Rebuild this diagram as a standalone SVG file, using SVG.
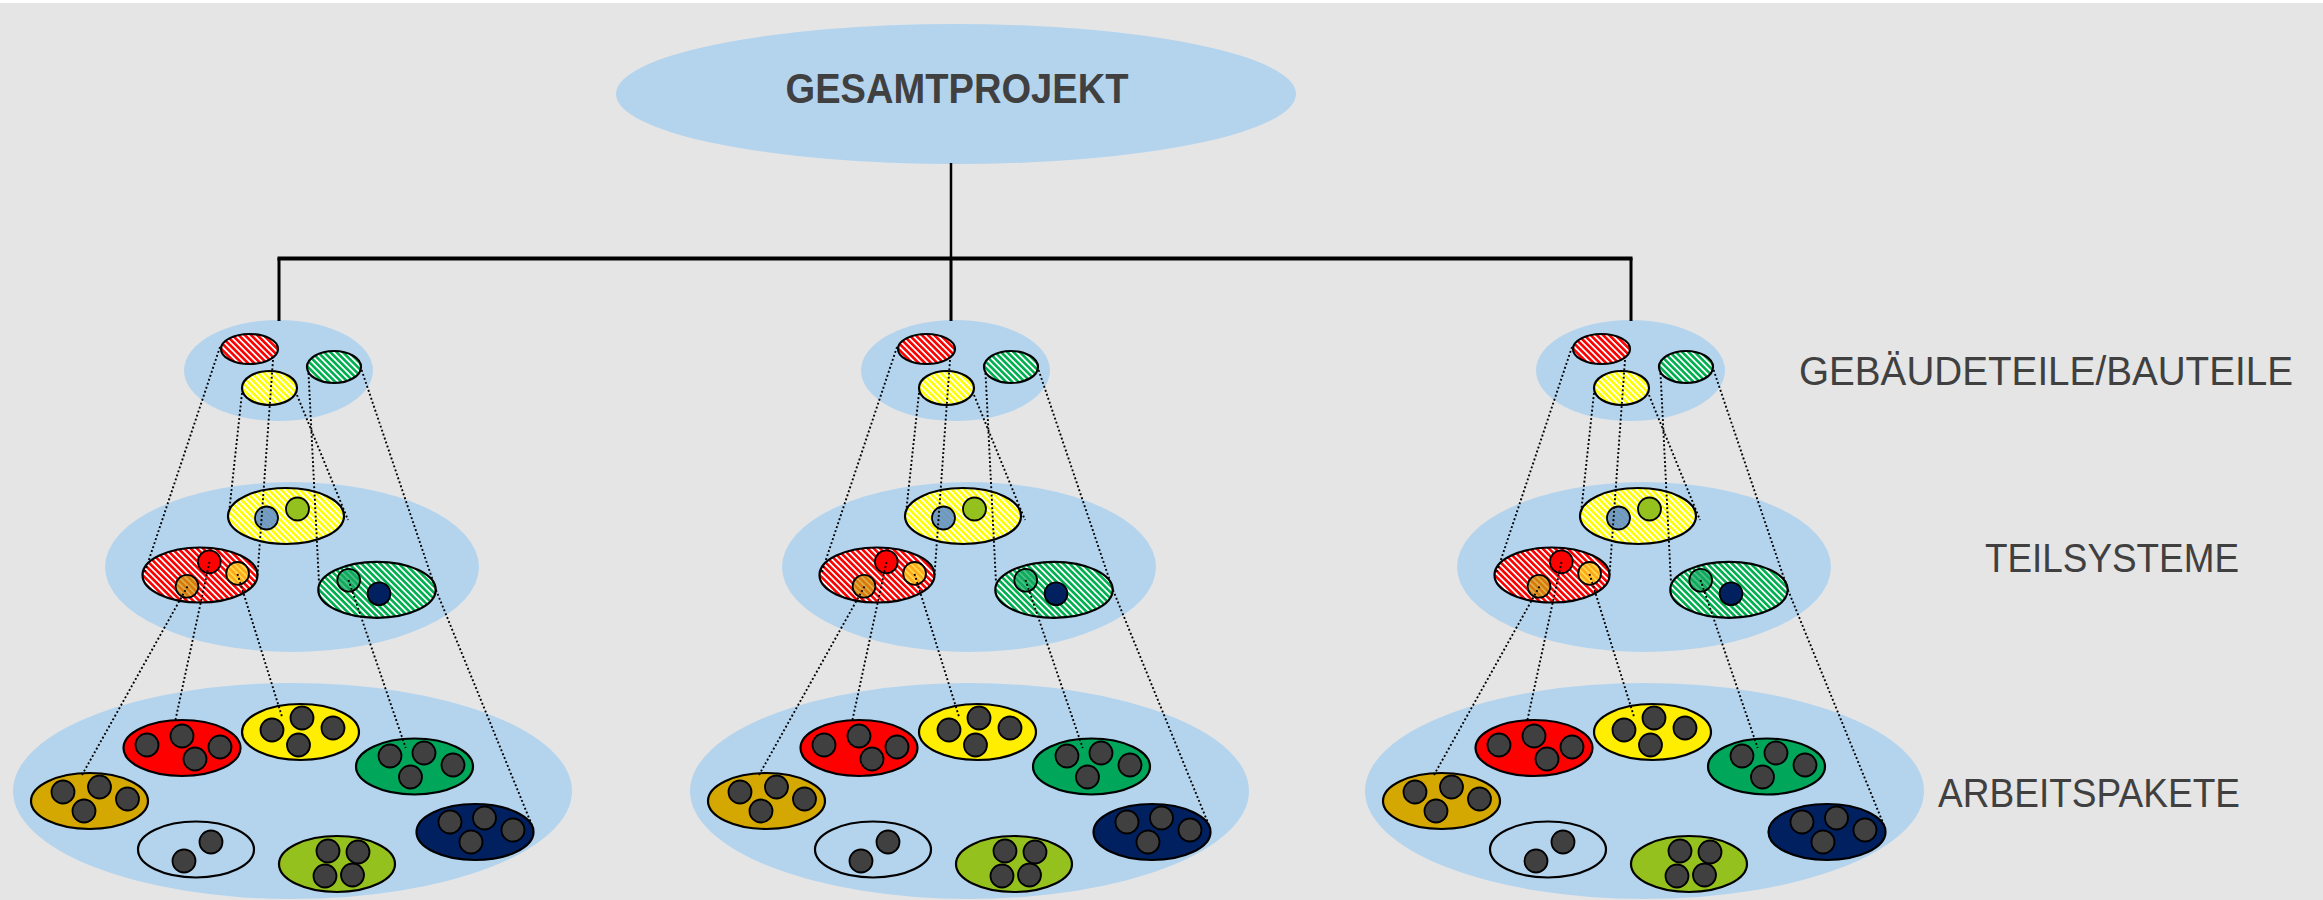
<svg xmlns="http://www.w3.org/2000/svg" xmlns:xlink="http://www.w3.org/1999/xlink" width="2323" height="900" viewBox="0 0 2323 900">
<style>
.bg{fill:#b4d4ee}
.ol{stroke:#000;stroke-width:2.2}
.dk{fill:#404040;stroke:#000;stroke-width:1.8}
.sm{stroke:#000;stroke-width:1.8}
.dot{stroke:#000;stroke-width:1.9;stroke-dasharray:1.9 2.3;fill:none}
.tree{stroke:#000;fill:none}
.lbl{font-family:"Liberation Sans",Arial,sans-serif;font-size:41px;fill:#404040}
</style>
<defs>
<pattern id="hr" width="4.4" height="4.4" patternUnits="userSpaceOnUse" patternTransform="rotate(-45)"><rect width="4.4" height="4.4" fill="#fff"/><line x1="2.2" y1="0" x2="2.2" y2="4.4" stroke="#ff0000" stroke-width="2.6"/></pattern>
<pattern id="hy" width="4.4" height="4.4" patternUnits="userSpaceOnUse" patternTransform="rotate(-45)"><rect width="4.4" height="4.4" fill="#fff"/><line x1="2.2" y1="0" x2="2.2" y2="4.4" stroke="#ffff00" stroke-width="2.6"/></pattern>
<pattern id="hg" width="4.4" height="4.4" patternUnits="userSpaceOnUse" patternTransform="rotate(-45)"><rect width="4.4" height="4.4" fill="#fff"/><line x1="2.2" y1="0" x2="2.2" y2="4.4" stroke="#00b050" stroke-width="2.6"/></pattern>
<g id="cluster">
  <ellipse class="bg" cx="278.5" cy="370.5" rx="94.5" ry="50.5"/>
  <ellipse class="bg" cx="292" cy="567" rx="187" ry="85"/>
  <ellipse class="bg" cx="292.5" cy="791" rx="279.5" ry="108"/>
  <ellipse class="ol" fill="url(#hr)" cx="249.5" cy="349" rx="28.5" ry="15"/>
  <ellipse class="ol" fill="url(#hg)" cx="334" cy="367" rx="27" ry="16"/>
  <ellipse class="ol" fill="url(#hy)" cx="269.5" cy="388" rx="27.5" ry="17"/>
  <ellipse class="ol" fill="url(#hy)" cx="286" cy="516" rx="58" ry="28"/>
  <circle class="sm" fill="#4f82d6" fill-opacity="0.8" cx="266.5" cy="518" r="11.5"/>
  <circle class="sm" fill="#95c11f" cx="297.5" cy="509" r="11.5"/>
  <ellipse class="ol" fill="url(#hr)" cx="200" cy="575" rx="57.5" ry="27.5"/>
  <circle class="sm" fill="#ff0000" cx="209.3" cy="561.8" r="11.4"/>
  <circle class="sm" fill="#ffd21f" fill-opacity="0.8" cx="237.6" cy="573.4" r="11.4"/>
  <circle class="sm" fill="#d09a10" fill-opacity="0.78" cx="187" cy="586.3" r="11.4"/>
  <ellipse class="ol" fill="url(#hg)" cx="377" cy="589.8" rx="58.7" ry="28"/>
  <circle class="sm" fill="#12a860" fill-opacity="0.75" cx="348.7" cy="580.2" r="11.4"/>
  <circle class="sm" fill="#002060" cx="379" cy="593.7" r="11.4"/>
  <ellipse class="ol" fill="#d4a800" cx="89.5" cy="801" rx="58.5" ry="28"/>
  <circle class="dk" cx="63" cy="792" r="11.5"/><circle class="dk" cx="99.5" cy="787" r="11.5"/><circle class="dk" cx="127.5" cy="799" r="11.5"/><circle class="dk" cx="84" cy="811" r="11.5"/>
  <ellipse class="ol" fill="#ff0000" cx="182" cy="748" rx="58.5" ry="28"/>
  <circle class="dk" cx="147" cy="745" r="11.5"/><circle class="dk" cx="182" cy="736" r="11.5"/><circle class="dk" cx="220" cy="747" r="11.5"/><circle class="dk" cx="195" cy="759" r="11.5"/>
  <ellipse class="ol" fill="#ffee00" cx="300.5" cy="732" rx="58.5" ry="28"/>
  <circle class="dk" cx="272" cy="730" r="11.5"/><circle class="dk" cx="302" cy="718" r="11.5"/><circle class="dk" cx="333" cy="728" r="11.5"/><circle class="dk" cx="298.5" cy="745" r="11.5"/>
  <ellipse class="ol" fill="#00a65a" cx="414.5" cy="766.5" rx="58.5" ry="28"/>
  <circle class="dk" cx="390" cy="756" r="11.5"/><circle class="dk" cx="424" cy="753" r="11.5"/><circle class="dk" cx="453" cy="765" r="11.5"/><circle class="dk" cx="410.5" cy="777" r="11.5"/>
  <ellipse class="ol" fill="#002060" cx="475" cy="832" rx="58.5" ry="28"/>
  <circle class="dk" cx="450" cy="822" r="11.5"/><circle class="dk" cx="484.5" cy="818" r="11.5"/><circle class="dk" cx="513" cy="830" r="11.5"/><circle class="dk" cx="471" cy="842" r="11.5"/>
  <ellipse class="ol" fill="none" cx="196" cy="849.5" rx="58" ry="28"/>
  <circle class="dk" cx="211" cy="842" r="11.5"/><circle class="dk" cx="184" cy="861" r="11.5"/>
  <ellipse class="ol" fill="#95c11f" cx="337" cy="864" rx="58" ry="28"/>
  <circle class="dk" cx="328" cy="851" r="11.5"/><circle class="dk" cx="358" cy="852" r="11.5"/><circle class="dk" cx="325" cy="876" r="11.5"/><circle class="dk" cx="352.5" cy="875" r="11.5"/>
</g>
<g id="dots" class="dot">
  <line x1="220" y1="347" x2="144.5" y2="573"/>
  <line x1="273" y1="360" x2="257.5" y2="575"/>
  <line x1="242" y1="393" x2="229" y2="513"/>
  <line x1="297" y1="395" x2="348" y2="520"/>
  <line x1="308.5" y1="373" x2="319" y2="583"/>
  <line x1="361.6" y1="370" x2="436" y2="590"/>
  <line x1="187.5" y1="586.5" x2="82" y2="775"/>
  <line x1="209.5" y1="562" x2="175" y2="722"/>
  <line x1="237.5" y1="574" x2="282.4" y2="718"/>
  <line x1="348.5" y1="580" x2="405.7" y2="748"/>
  <line x1="436" y1="590" x2="533.9" y2="830"/>
</g>
</defs>
<rect x="0" y="0" width="2323" height="900" fill="#ffffff"/>
<rect x="0" y="3" width="2323" height="897" fill="#e5e5e5"/>
<g id="gesamtprojekt">
  <ellipse class="bg" cx="956" cy="94" rx="340" ry="70"/>
  <text x="957" y="103" text-anchor="middle" textLength="343" lengthAdjust="spacingAndGlyphs" style="font-family:'Liberation Sans',Arial,sans-serif;font-weight:bold;font-size:43px;fill:#404040">GESAMTPROJEKT</text>
</g>
<g id="cluster-left"><use xlink:href="#cluster" href="#cluster"/></g>
<g id="cluster-middle"><use xlink:href="#cluster" href="#cluster" transform="translate(677,0)"/></g>
<g id="cluster-right"><use xlink:href="#cluster" href="#cluster" transform="translate(1352,0)"/></g>
<g id="connectors">
  <line class="tree" x1="951" y1="163" x2="951" y2="258" stroke-width="2.5"/>
  <line class="tree" x1="277.5" y1="258.5" x2="1632.5" y2="258.5" stroke-width="4"/>
  <line class="tree" x1="279" y1="258" x2="279" y2="321" stroke-width="3"/>
  <line class="tree" x1="951" y1="258" x2="951" y2="321" stroke-width="3"/>
  <line class="tree" x1="1631" y1="258" x2="1631" y2="321" stroke-width="3"/>
  <use xlink:href="#dots" href="#dots"/>
  <use xlink:href="#dots" href="#dots" transform="translate(677,0)"/>
  <use xlink:href="#dots" href="#dots" transform="translate(1352,0)"/>
</g>
<g id="labels">
  <text class="lbl" x="1799" y="385" style="font-size:40px" textLength="494" lengthAdjust="spacingAndGlyphs">GEBÄUDETEILE/BAUTEILE</text>
  <text class="lbl" x="1985" y="572" textLength="254" lengthAdjust="spacingAndGlyphs">TEILSYSTEME</text>
  <text class="lbl" x="1938" y="807" textLength="302" lengthAdjust="spacingAndGlyphs">ARBEITSPAKETE</text>
</g>
</svg>
